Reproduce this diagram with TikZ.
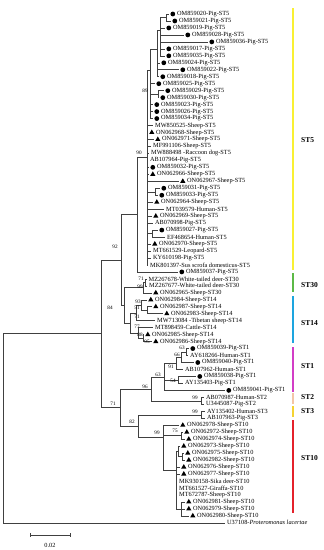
\documentclass[tikz,border=0pt]{standalone}
\usepackage{fontspec}
\setmainfont{Liberation Serif}
\usetikzlibrary{shapes.geometric}

\definecolor{stfive}{HTML}{F9F032}
\definecolor{stthirty}{HTML}{5CB947}
\definecolor{stfourteen}{HTML}{1DA5DF}
\definecolor{stone}{HTML}{D23DC6}
\definecolor{sttwo}{HTML}{F3C5A6}
\definecolor{stthree}{HTML}{F5D332}
\definecolor{stten}{HTML}{E4212B}

\begin{document}
\begin{tikzpicture}[x=1pt, y=-1pt, font=\fontsize{6.3}{7}\selectfont,
  br/.style={line width=0.55pt, black!75},
  pig/.style={circle, fill=black, inner sep=0pt, minimum size=4.8pt},
  sheep/.style={regular polygon, regular polygon sides=3, fill=black, inner sep=0pt, minimum size=6pt},
  ref/.style={inner sep=0pt, minimum size=0pt},
  lab/.style={anchor=west, inner sep=0pt},
  bs/.style={inner sep=0pt, font=\fontsize{5.2}{6}\selectfont},
  bar/.style={line width=2.6pt},
  stlab/.style={anchor=west, inner sep=0pt, font=\fontsize{7.5}{8}\selectfont\bfseries}]
\useasboundingbox (0,0) rectangle (324,550);

% inner nodes of the tree
\coordinate (root) at (3,428.2); \coordinate (nin) at (101,333.5);
\coordinate (n92) at (121,259.9); \coordinate (n137) at (137,214.5); \coordinate (n90) at (147,157);
\coordinate (pZ) at (150,70); \coordinate (pA) at (157,49); \coordinate (pB) at (160,30); \coordinate (c12) at (166,17.5);
\coordinate (c1213) at (158,94.2); \coordinate (c2627) at (155,191.8); \coordinate (c3233) at (152,233.6);
\coordinate (n84) at (124,305.3); \coordinate (st30) at (143,287.6); \coordinate (c3940) at (145,282.4);
\coordinate (n77) at (130,322.9); \coordinate (n71c) at (136,312.9); \coordinate (n93) at (141,305); \coordinate (n51) at (147,310.2);
\coordinate (n88) at (138,332.9); \coordinate (n95) at (143,338.1);
\coordinate (n71) at (120,407.2); \coordinate (n96) at (151,388.9); \coordinate (n63) at (164,376.9);
\coordinate (n91) at (176,363.4); \coordinate (n66) at (181,357.3); \coordinate (c4950) at (186,352.1); \coordinate (n54) at (178,379.9);
\coordinate (c5657) at (201,400.8); \coordinate (n82) at (138,425.9); \coordinate (c5859) at (201,414.8);
\coordinate (st10) at (163,437); \coordinate (c6162) at (181,435.7); \coordinate (sub) at (176,470);
\coordinate (c6365) at (178,451.4); \coordinate (c6465) at (182,456.6); \coordinate (c7173) at (181,508.9);

\foreach \a/\b in {root/nin, nin/n92, nin/n71, n92/n137, n92/n84, n137/n90, n90/pZ, pZ/pA, pA/pB, pB/c12,
  pZ/c1213, n90/c2627, n90/c3233, n84/st30, st30/c3940, n84/n77, n77/n71c, n71c/n93, n93/n51, n77/n88, n88/n95,
  n71/n96, n96/n63, n63/n91, n91/n66, n66/c4950, n63/n54, n96/c5657, n71/n82, n82/c5859, n82/st10,
  st10/c6162, st10/sub, sub/c6365, c6365/c6465, sub/c7173}
  \draw[br] (\a) |- (\b);

% leaves: index/parent/tip/marker/text x/label
\foreach \i/\p/\tp/\m/\tx/\lab in {
  1/c12/169/pig/177/{OM859020-Pig-ST5}, 2/c12/171/pig/179/{OM859021-Pig-ST5},
  3/pB/165/pig/173/{OM859019-Pig-ST5}, 4/pB/184/pig/192/{OM859028-Pig-ST5},
  5/pB/208/pig/216/{OM859036-Pig-ST5}, 6/pB/165/pig/173/{OM859017-Pig-ST5},
  7/pB/165/pig/173/{OM859035-Pig-ST5}, 8/pA/160/pig/168/{OM859024-Pig-ST5},
  9/pA/179/pig/187/{OM859022-Pig-ST5}, 10/pA/159/pig/167/{OM859018-Pig-ST5},
  11/pZ/155/pig/163/{OM859025-Pig-ST5}, 12/c1213/164/pig/172/{OM859029-Pig-ST5},
  13/c1213/159/pig/167/{OM859030-Pig-ST5}, 14/pZ/153/pig/161/{OM859023-Pig-ST5},
  15/pZ/153/pig/161/{OM859026-Pig-ST5}, 16/pZ/153/pig/161/{OM859034-Pig-ST5},
  17/n90/153/ref/155/{MW850525-Sheep-ST5}, 18/n90/148/sheep/156/{ON062968-Sheep-ST5},
  19/n90/154/sheep/162/{ON062971-Sheep-ST5}, 20/n90/151/ref/153/{MF991106-Sheep-ST5},
  21/n90/149/ref/151/{MW888498 -Raccoon dog-ST5}, 22/n90/148/ref/150/{AB107964-Pig-ST5},
  23/n90/149/pig/157/{OM859032-Pig-ST5}, 24/n90/149/sheep/157/{ON062966-Sheep-ST5},
  25/n90/179/sheep/187/{ON062967-Sheep-ST5}, 26/c2627/160/pig/168/{OM859031-Pig-ST5},
  27/c2627/158/pig/166/{OM859033-Pig-ST5}, 28/n90/153/sheep/161/{ON062964-Sheep-ST5},
  29/n90/164/ref/166/{MT039579-Human-ST5}, 30/n90/152/sheep/160/{ON062969-Sheep-ST5},
  31/n90/153/ref/155/{AB070998-Pig-ST5}, 32/c3233/158/pig/166/{OM859027-Pig-ST5},
  33/c3233/165/ref/167/{EF468654-Human-ST5}, 34/n90/151/sheep/159/{ON062970-Sheep-ST5},
  35/n90/151/ref/153/{MT661529-Leopard-ST5}, 36/n90/151/ref/153/{KY610198-Pig-ST5},
  37/n90/148/ref/150/{MK801397-Sus scrofa domesticus-ST5}, 38/n137/178/pig/186/{OM859037-Pig-ST5},
  39/c3940/146.5/ref/148.5/{MZ267678-White-tailed deer-ST30}, 40/c3940/147/ref/149/{MZ267677-White-tailed deer-ST30},
  41/st30/152/sheep/160/{ON062965-Sheep-ST30}, 42/n93/147/sheep/155/{ON062984-Sheep-ST14},
  43/n51/152/sheep/160/{ON062987-Sheep-ST14}, 44/n51/163/sheep/171/{ON062983-Sheep-ST14},
  45/n71c/155/ref/157/{MW713084 -Tibetan sheep-ST14}, 46/n88/153/ref/155/{MT898459-Cattle-ST14},
  47/n95/144/sheep/152/{ON062985-Sheep-ST14}, 48/n95/152/sheep/160/{ON062986-Sheep-ST14},
  49/c4950/189/pig/197/{OM859039-Pig-ST1}, 50/c4950/188/ref/190/{AY618266-Human-ST1},
  51/n66/194/pig/202/{OM859040-Pig-ST1}, 52/n91/183/ref/185/{AB107962-Human-ST1},
  53/n54/196/pig/204/{OM859038-Pig-ST1}, 54/n54/183/ref/185/{AY135403-Pig-ST1},
  55/n63/225/pig/233/{OM859041-Pig-ST1}, 56/c5657/204/ref/206/{AB070987-Human-ST2},
  57/c5657/204/ref/206/{U3445087-Pig-ST2}, 58/c5859/205/ref/207/{AY135402-Human-ST3},
  59/c5859/205/ref/207/{AB107963-Pig-ST3}, 60/st10/179/sheep/187/{ON062978-Sheep-ST10},
  61/c6162/183/sheep/191/{ON062972-Sheep-ST10}, 62/c6162/185/sheep/193/{ON062974-Sheep-ST10},
  63/c6365/180/sheep/188/{ON062973-Sheep-ST10}, 64/c6465/184/sheep/192/{ON062975-Sheep-ST10},
  65/c6465/185/sheep/193/{ON062982-Sheep-ST10}, 66/sub/180/sheep/188/{ON062976-Sheep-ST10},
  67/sub/180/sheep/188/{ON062977-Sheep-ST10}, 68/sub/177/ref/179/{MK930158-Sika deer-ST10},
  69/sub/177/ref/179/{MT661527-Giraffa-ST10}, 70/sub/177/ref/179/{MT672787-Sheep-ST10},
  71/c7173/185/sheep/193/{ON062981-Sheep-ST10}, 72/c7173/185/sheep/193/{ON062979-Sheep-ST10},
  73/c7173/189/sheep/197/{ON062980-Sheep-ST10}, 74/root/225/ref/227/{U37108-\textit{Proteromonas lacertae}}}
{
  \pgfmathsetmacro\yy{14+(\i-1)*6.97}
  \coordinate (t\i) at (\tp,\yy);
  \draw[br] (\p) |- (t\i);
  \node[\m] (m\i) at ({\tp+3.8},\yy) {};
  \node[lab] (l\i) at (\tx,\yy) {\lab};
}

% bootstrap values
\foreach \n/\x/\y/\v in {n92/115/247/92, n90/139/153/90, c1213/145/91/89, n84/110/308/84, c3940/141/279/71,
  st30/140/287/99, n93/138/302/93, n51/137/308/51, n71c/137/317/71, n77/137/327/77, n88/140/335/88,
  n95/147/342/95, c4950/182/348/63, n66/177/355/66, n91/171/367/91, n63/158/375/63, n54/173/381/54,
  n96/145/387/96, c5657/195/398/99, n71/113/404/71, c5859/195/412/99, n82/132/422/82, c6162/175/431/75,
  st10/157/433/99}
  \node[bs] (b\n) at (\x,\y) {\v};

% scale bar
\coordinate (sb1) at (30,535); \coordinate (sb2) at (70,535);
\draw[br] (sb1) -- (sb2);
\draw[br] ([yshift=-1.8pt]sb1) -- ([yshift=1.8pt]sb1); \draw[br] ([yshift=-1.8pt]sb2) -- ([yshift=1.8pt]sb2);
\node[inner sep=0pt] (sblab) at (50,545) {0.02};

% subtype bars
\foreach \c/\ya/\yb/\t/\ly in {stfive/8/270/ST5/140, stthirty/273/292/ST30/285, stfourteen/296/343/ST14/323,
  stone/347/392/ST1/366, sttwo/393/404/ST2/397, stthree/406/417/ST3/411, stten/420/513/ST10/458}
{
  \draw[bar, \c] (293,\ya) -- (293,\yb);
  \node[stlab] (g\t) at (301,\ly) {\t};
}
\end{tikzpicture}
\end{document}
